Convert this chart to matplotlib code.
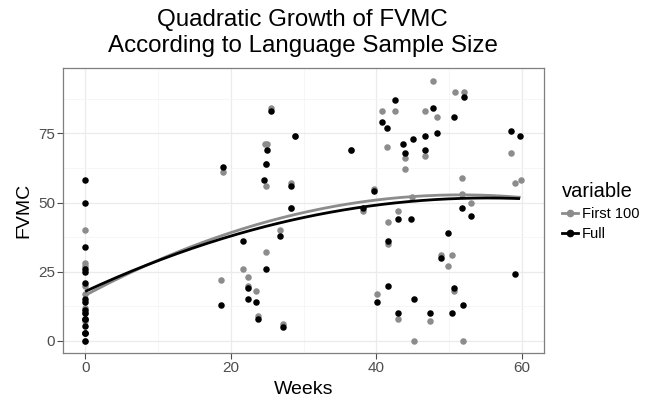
import numpy as np
import matplotlib
matplotlib.use("Agg")
import matplotlib.pyplot as plt
from matplotlib.lines import Line2D

plt.rcParams['font.family'] = ['Liberation Sans', 'DejaVu Sans']

title = "Quadratic Growth of FVMC\nAccording to Language Sample Size"
x_label = "Weeks"
y_label = "FVMC"
legend_title = "variable"
series_names = ["First 100", "Full"]
x_ticks = [0, 20, 40, 60]
y_ticks = [0, 25, 50, 75]

first100_weeks = [0, 0, 0, 0, 0, 0, 0, 0, 0, 0,
                  18.7, 18.9, 25.5, 24.7, 25.0, 24.8, 28.3, 26.8, 24.8, 21.7,
                  22.3, 22.4, 23.4, 23.7, 27.1, 28.8, 24.8, 28.2, 36.5,
                  47.7, 40.8, 42.6, 46.6, 48.3, 41.5, 43.9, 46.7, 43.9, 39.6,
                  44.9, 38.1, 43.0, 41.6, 41.6, 48.8, 50.3, 49.8, 40.1, 43.0,
                  47.3, 45.2,
                  50.8, 52.0, 58.5, 51.8, 59.0, 59.8, 51.8, 53.0, 50.7, 51.9]
first100_values = [40, 28, 27, 20, 17, 12, 10, 7, 3, 0,
                   22, 61, 84, 71, 71, 56, 57, 40, 32, 26,
                   23, 20, 18, 9, 6, 74, 64, 48, 69,
                   94, 83, 83, 83, 81, 70, 66, 67, 62, 55,
                   52, 47, 47, 43, 35, 31, 31, 27, 17, 8,
                   7, 0,
                   90, 90, 68, 59, 57, 58, 53, 50, 18, 0]

full_weeks = [0, 0, 0, 0, 0, 0, 0, 0, 0, 0, 0, 0, 0, 0, 0, 0,
              18.7, 18.9, 25.5, 28.8, 25.0, 36.5, 24.8, 24.6, 28.3, 28.2,
              26.8, 21.7, 24.8, 22.3, 22.4, 23.4, 23.7, 27.1,
              42.6, 47.8, 40.8, 41.5, 48.3, 45.0, 46.6, 43.7, 43.9, 46.7,
              39.6, 38.1, 43.0, 44.8, 41.6, 49.8, 48.8, 41.6, 40.1, 45.2,
              43.0, 47.3, 50.3,
              52.0, 50.7, 58.5, 59.7, 51.8, 53.0, 59.0, 50.7, 51.9]
full_values = [58, 50, 34, 26, 25, 21, 15, 14, 11, 10, 8, 5.5, 3, 0, 3, 8,
               13, 63, 83, 74, 69, 69, 64, 58, 56, 48,
               38, 36, 26, 19, 15, 14, 8, 5,
               87, 84, 79, 77, 75, 73, 74, 71, 68, 69,
               54, 48, 44, 44, 36, 39, 30, 20, 14, 15,
               10, 10, 10,
               88, 81, 76, 74, 48, 45, 24, 19, 13]

colors = ["#8C8C8C", "#000000"]

fig = plt.figure(figsize=(6.48, 4.07), dpi=100)
ax = fig.add_axes([0.0977, 0.1327, 0.7418, 0.6993])

series = [(first100_weeks, first100_values), (full_weeks, full_values)]
for (wx, wy), c in zip(series, colors):
    ax.scatter(wx, wy, s=22, color=c, linewidths=0, zorder=3)
for (wx, wy), c in zip(series, colors):
    coef = np.polyfit(wx, wy, 2)
    xs = np.linspace(min(wx), max(wx), 200)
    ax.plot(xs, np.polyval(coef, xs), color=c, lw=2.0, zorder=4,
            solid_capstyle='butt')

ax.set_xlim(-3.0, 63.0)
ax.set_ylim(-4.4, 98.5)
ax.set_xticks(x_ticks)
ax.set_yticks(y_ticks)
ax.set_xticks([10, 30, 50], minor=True)
ax.set_yticks([12.5, 37.5, 62.5, 87.5], minor=True)
ax.grid(True, which='major', color='#EBEBEB', lw=0.9, zorder=0)
ax.grid(True, which='minor', color='#F5F5F5', lw=0.6, zorder=0)
ax.set_axisbelow(True)
for sp in ax.spines.values():
    sp.set_color('#7F7F7F')
    sp.set_linewidth(0.9)
ax.tick_params(which='major', length=4, width=0.8, color='#4D4D4D',
               labelcolor='#4D4D4D', labelsize=11, pad=2)
ax.tick_params(which='minor', length=0)

ax.set_xlabel(x_label, fontsize=14, labelpad=4)
ax.set_ylabel(y_label, fontsize=14, labelpad=4)
fig.suptitle(title, x=0.467, y=0.978, fontsize=17.4, linespacing=1.25, va='top')

handles = [Line2D([0], [0], color=c, lw=2, marker='o', markersize=4.5)
           for c in colors]
leg = fig.legend(handles, series_names, title=legend_title,
                 loc='center left', bbox_to_anchor=(0.847, 0.48),
                 frameon=False, fontsize=10.5, title_fontsize=14.5,
                 handlelength=1.07, handletextpad=0.3, labelspacing=0.4)
leg._legend_box.align = "left"

fig.savefig("out.png", dpi=100)
